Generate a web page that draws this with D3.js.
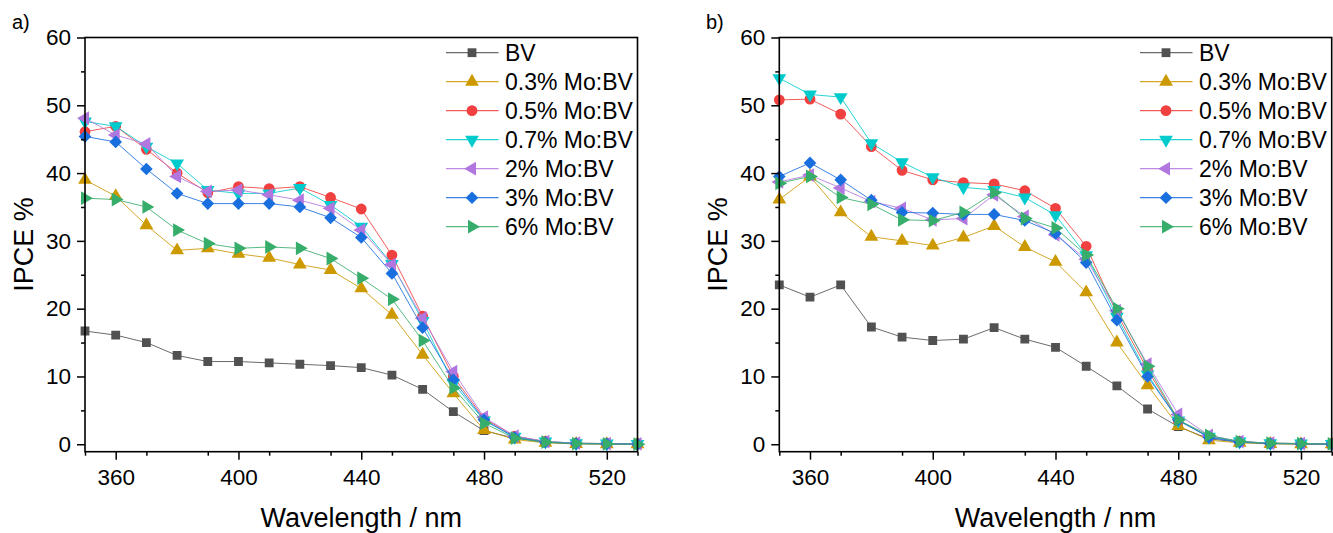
<!DOCTYPE html>
<html><head><meta charset="utf-8">
<script src="https://cdn.jsdelivr.net/npm/d3@7"></script>
<style>body{margin:0;background:#fff}svg{display:block}text{font-family:"Liberation Sans",Arial,sans-serif;fill:#000}</style>
</head><body>
<svg id="chart" width="1333" height="533"></svg>
<script>
const wavelengths = [350,360,370,380,390,400,410,420,430,440,450,460,470,480,490,500,510,520,530];
const seriesNames = ["BV","0.3% Mo:BV","0.5% Mo:BV","0.7% Mo:BV","2% Mo:BV","3% Mo:BV","6% Mo:BV"];
const seriesColors = ["#515151","#CC9900","#F14040","#00CBCC","#B177DE","#1A6FDF","#37AD6B"];
const seriesShapes = ["square","triUp","circle","triDown","triLeft","diamond","triRight"];
const xTicks = [360,400,440,480,520];
const yTicks = [0,10,20,30,40,50,60];

// Panel a
const a_BV   = [16.7,16.1,15.0,13.1,12.2,12.2,12.0,11.8,11.6,11.3,10.2,8.1,4.8,2.0,0.9,0.3,0.1,0.05,0.0];
const a_03   = [39.0,36.6,32.3,28.6,28.9,28.1,27.5,26.5,25.7,23.0,19.1,13.2,7.5,2.1,0.7,0.2,0.05,0.0,0.0];
const a_05   = [46.1,46.9,43.5,40.0,37.1,38.0,37.7,38.0,36.4,34.7,27.9,18.9,10.0,3.8,1.2,0.4,0.15,0.1,0.05];
const a_07   = [47.6,46.9,43.9,41.4,37.5,37.0,37.0,37.8,35.3,32.1,26.6,18.2,9.0,3.5,1.1,0.4,0.15,0.1,0.05];
const a_2    = [48.1,45.6,44.3,39.5,37.3,37.5,36.8,36.0,34.8,31.6,26.5,18.6,10.7,4.0,1.2,0.4,0.15,0.1,0.05];
const a_3    = [45.4,44.6,40.6,37.0,35.5,35.5,35.5,35.0,33.4,30.5,25.2,17.2,9.5,3.6,1.0,0.3,0.1,0.05,0.0];
const a_6    = [36.3,36.1,35.0,31.6,29.6,28.9,29.1,28.9,27.4,24.5,21.4,15.3,8.3,3.1,0.9,0.3,0.1,0.05,0.0];

// Panel b
const b_BV   = [23.5,21.7,23.5,17.3,15.8,15.3,15.5,17.2,15.5,14.3,11.5,8.6,5.2,2.6,0.8,0.3,0.1,0.05,0.0];
const b_03   = [36.1,39.5,34.2,30.6,30.0,29.3,30.5,32.2,29.1,26.9,22.4,15.0,8.7,2.7,0.6,0.2,0.05,0.0,0.0];
const b_05   = [50.8,50.9,48.7,43.9,40.4,39.0,38.6,38.4,37.4,34.8,29.2,19.3,11.0,3.5,1.1,0.4,0.15,0.1,0.05];
const b_07   = [54.0,51.6,51.2,44.4,41.6,39.4,37.9,37.5,36.4,33.8,27.9,18.8,10.3,3.5,1.1,0.4,0.15,0.1,0.05];
const b_2    = [38.7,39.7,37.8,35.8,34.8,33.1,33.3,36.8,33.6,30.9,27.3,19.7,11.8,4.4,1.3,0.4,0.15,0.1,0.05];
const b_3    = [39.5,41.5,39.0,36.0,34.2,34.1,33.9,33.9,33.0,31.1,26.8,18.3,10.0,3.6,1.0,0.3,0.1,0.05,0.0];
const b_6    = [38.5,39.5,36.4,35.4,33.1,33.0,34.2,37.1,33.3,31.9,27.9,20.0,11.5,3.6,1.3,0.4,0.15,0.1,0.05];

const panels = [
  {label:"a)", left:85, right:637.5, labelX:12, legX:446, series:[a_BV,a_03,a_05,a_07,a_2,a_3,a_6]},
  {label:"b)", left:779.3, right:1331.7, labelX:706, legX:1140, series:[b_BV,b_03,b_05,b_07,b_2,b_3,b_6]}
];
const plotTop = 37.5, plotBottom = 451.7;
const svg = d3.select("#chart");

function markerPath(shape){
  const s = d3.symbol();
  if(shape==="square") return {d:s.type(d3.symbolSquare).size(78)(), rot:0};
  if(shape==="circle") return {d:s.type(d3.symbolCircle).size(92)(), rot:0};
  if(shape==="diamond") return {d:s.type(d3.symbolSquare).size(80)(), rot:45};
  const tri = s.type(d3.symbolTriangle).size(82)();
  const rot = {triUp:0, triDown:180, triLeft:-90, triRight:90}[shape];
  return {d:tri, rot};
}

panels.forEach(p=>{
  const x = d3.scaleLinear().domain([350,530]).range([p.left,p.right]);
  const y = d3.scaleLinear().domain([-1.1,60]).range([plotBottom,plotTop]);
  const g = svg.append("g");

  const cid = "clip"+p.label[0];
  svg.append("clipPath").attr("id",cid).append("rect")
    .attr("x",p.left-8).attr("y",plotTop).attr("width",p.right-p.left+16).attr("height",plotBottom-plotTop);

  const line = d3.line().x((d,i)=>x(wavelengths[i])).y(d=>y(d));
  p.series.forEach((vals,si)=>{
    const sg = g.append("g").attr("clip-path",`url(#${cid})`);
    sg.append("path").attr("d",line(vals)).attr("fill","none")
      .attr("stroke",seriesColors[si]).attr("stroke-width",1).attr("stroke-opacity",0.85);
    const m = markerPath(seriesShapes[si]);
    sg.selectAll("path.m").data(vals).enter().append("path").attr("class","m")
      .attr("d",m.d)
      .attr("transform",(d,i)=>`translate(${x(wavelengths[i])},${y(d)}) rotate(${m.rot})`)
      .attr("fill",seriesColors[si]);
  });

  const xAxis = d3.axisBottom(x).tickValues(xTicks).tickSize(8).tickPadding(9).tickFormat(d3.format("d"));
  const xMinor = d3.axisBottom(x).tickValues(d3.range(350,531,20).filter(v=>!xTicks.includes(v))).tickSize(4).tickFormat("");
  const yAxis = d3.axisLeft(y).tickValues(yTicks).tickSize(8).tickPadding(6);
  const yMinor = d3.axisLeft(y).tickValues([5,15,25,35,45,55]).tickSize(4).tickFormat("");

  g.append("g").attr("transform",`translate(0,${plotBottom})`).call(xAxis);
  g.append("g").attr("transform",`translate(0,${plotBottom})`).call(xMinor);
  g.append("g").attr("transform",`translate(${p.left},0)`).call(yAxis);
  g.append("g").attr("transform",`translate(${p.left},0)`).call(yMinor);
  g.selectAll(".domain").remove();
  g.selectAll(".tick line").attr("stroke","#000").attr("stroke-width",1.5);
  g.selectAll(".tick text").style("font-size","22.5px").style("font-family","'Liberation Sans',Arial,sans-serif");

  g.append("rect").attr("x",p.left).attr("y",plotTop).attr("width",p.right-p.left).attr("height",plotBottom-plotTop)
    .attr("fill","none").attr("stroke","#000").attr("stroke-width",1.6);

  g.append("text").attr("x",(p.left+p.right)/2).attr("y",527).attr("text-anchor","middle")
    .style("font-size","27px").text("Wavelength / nm");
  g.append("text").attr("transform",`translate(${p.left-52},${(plotTop+plotBottom)/2}) rotate(-90)`)
    .attr("text-anchor","middle").style("font-size","27px").text("IPCE %");

  g.append("text").attr("x",p.labelX).attr("y",29).style("font-size","20px").text(p.label);

  const lg = g.append("g");
  seriesNames.forEach((name,si)=>{
    const ly = 52.7 + si*29;
    lg.append("line").attr("x1",p.legX).attr("x2",p.legX+52.5).attr("y1",ly).attr("y2",ly)
      .attr("stroke",seriesColors[si]).attr("stroke-width",1.2).attr("stroke-opacity",0.85);
    const m = markerPath(seriesShapes[si]);
    lg.append("path").attr("d",m.d).attr("transform",`translate(${p.legX+26},${ly}) rotate(${m.rot})`)
      .attr("fill",seriesColors[si]);
    lg.append("text").attr("x",p.legX+59).attr("y",ly+8).style("font-size","23px").text(name);
  });
});
</script>
</body></html>
